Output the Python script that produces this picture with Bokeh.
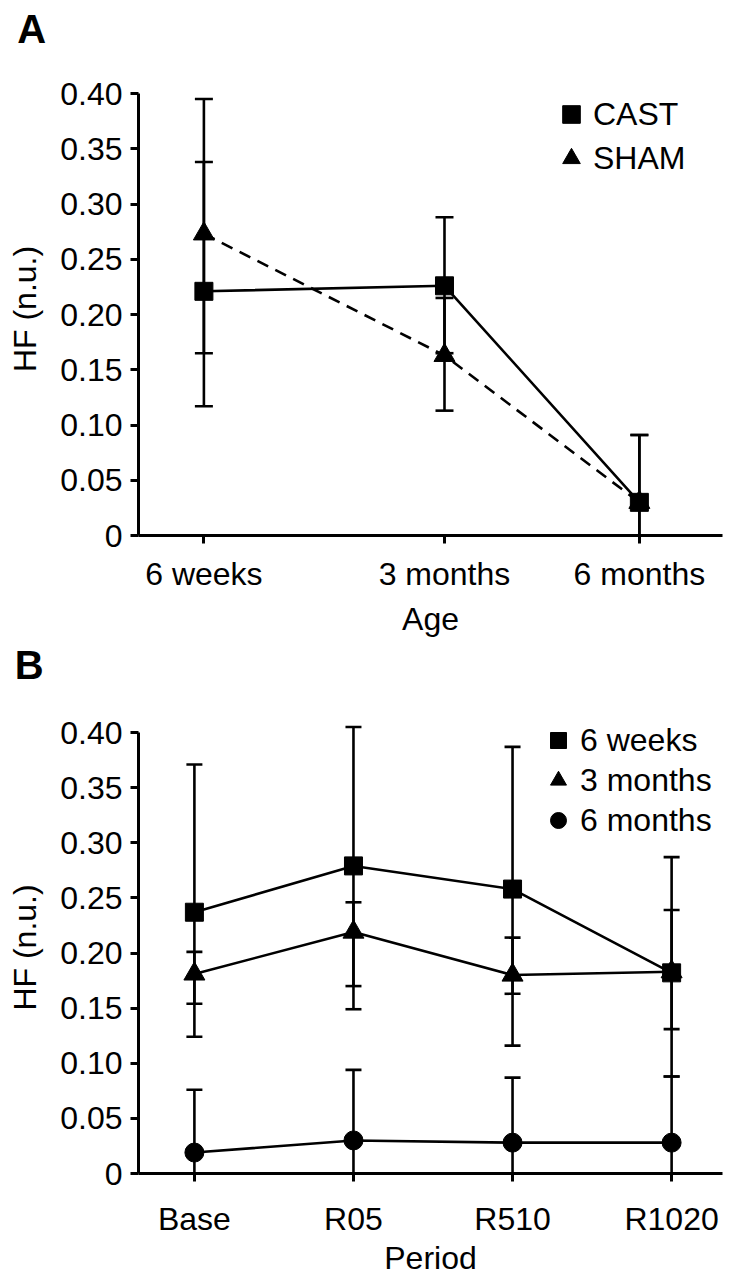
from bokeh.plotting import figure
from bokeh.models import Range1d, FixedTicker, Legend, LegendItem, Title
from bokeh.layouts import column
from bokeh.embed import file_html
from bokeh.resources import INLINE

FONT = "Liberation Sans"

# ---------------- data: panel A ----------------
age_labels = ["6 weeks", "3 months", "6 months"]
cast_mean = [0.221, 0.226, 0.030]
cast_upper = [0.338, 0.288, 0.091]
cast_lower = [0.117, 0.165, -0.031]
sham_mean = [0.273, 0.163, 0.030]
sham_upper = [0.395, 0.215, 0.091]
sham_lower = [0.165, 0.113, -0.031]

# ---------------- data: panel B ----------------
period_labels = ["Base", "R05", "R510", "R1020"]
w6_mean = [0.237, 0.279, 0.258, 0.182]
w6_upper = [0.371, 0.405, 0.387, 0.287]
w6_lower = [0.124, 0.149, 0.116, 0.088]
m3_mean = [0.181, 0.219, 0.180, 0.183]
m3_upper = [0.201, 0.246, 0.214, 0.239]
m3_lower = [0.154, 0.170, 0.163, 0.131]
m6_mean = [0.019, 0.030, 0.028, 0.028]
m6_upper = [0.076, 0.094, 0.087, 0.088]
m6_lower = [-0.038, -0.034, -0.031, -0.032]

y_ticks = [0, 0.05, 0.10, 0.15, 0.20, 0.25, 0.30, 0.35, 0.40]
y_tick_labels = ["0", "0.05", "0.10", "0.15", "0.20", "0.25", "0.30", "0.35", "0.40"]

# layout positions of categories along x
age_pos = [0.0, 1.0, 1.81]
period_pos = [0, 1, 2, 3]

W = 736
LEFT, RIGHT = 138, 14
Y_TOP = 0.41
LW = 2.6


def style(p, xpos, xlabels, xtitle, lab_standoff, title_standoff):
    p.grid.visible = False
    p.outline_line_color = None
    p.background_fill_color = "white"
    p.border_fill_color = "white"
    p.xaxis.ticker = FixedTicker(ticks=xpos)
    p.xaxis.major_label_overrides = {x: l for x, l in zip(xpos, xlabels)}
    p.yaxis.ticker = FixedTicker(ticks=y_ticks)
    p.yaxis.major_label_overrides = {t: l for t, l in zip(y_ticks, y_tick_labels)}
    p.yaxis.bounds = (0, 0.40)
    for ax in p.axis:
        ax.axis_line_width = 3
        ax.axis_line_color = "black"
        ax.major_tick_line_width = 3
        ax.major_tick_line_color = "black"
        ax.major_tick_out = 8
        ax.major_tick_in = 0
        ax.minor_tick_out = 0
        ax.minor_tick_in = 0
        ax.major_label_text_font = FONT
        ax.major_label_text_font_size = "32px"
        ax.major_label_text_color = "black"
        ax.axis_label_text_font = FONT
        ax.axis_label_text_font_size = "32px"
        ax.axis_label_text_font_style = "normal"
        ax.axis_label_text_color = "black"
    p.xaxis.axis_label = xtitle
    p.yaxis.axis_label = "HF (n.u.)"
    p.xaxis.major_label_standoff = lab_standoff
    p.xaxis.axis_label_standoff = title_standoff
    p.yaxis.major_label_standoff = 8
    p.yaxis.axis_label_standoff = 14


def errbars(p, xs, lo, hi, cap):
    p.segment(x0=xs, y0=lo, x1=xs, y1=hi, line_width=LW, line_color="black")
    p.scatter(x=xs, y=hi, marker="dash", size=cap, line_width=LW, line_color="black")
    p.scatter(x=xs, y=lo, marker="dash", size=cap, line_width=LW, line_color="black")


def panel_letter(p, text, offset, gap):
    # spacer panel next to the frame, then the bold panel letter above it
    p.add_layout(Title(text=" ", text_font_size="10px", standoff=gap,
                       text_color="white"), "above")
    p.add_layout(Title(text=text, text_font=FONT, text_font_size="40px",
                       text_font_style="bold", text_color="black", align="left",
                       vertical_align="top", offset=offset, standoff=0), "above")


# ---------------- panel A ----------------
HA, TOPA, FHA = 640, 82, 453
pa = figure(width=W, height=HA, title=None,
            x_range=Range1d(-0.2718, 2.1555), y_range=Range1d(0, Y_TOP),
            min_border_left=LEFT, min_border_right=RIGHT, min_border_top=TOPA,
            min_border_bottom=HA - TOPA - FHA,
            output_backend="svg", toolbar_location=None)
style(pa, age_pos, age_labels, "Age", 12, 6)

errbars(pa, age_pos, sham_lower, sham_upper, 18)
errbars(pa, age_pos, cast_lower, cast_upper, 18)
pa.line(age_pos, sham_mean, line_width=LW, line_color="black", line_dash="12 8")
pa.line(age_pos, cast_mean, line_width=LW, line_color="black")
r_sham = pa.scatter(age_pos, sham_mean, marker="triangle", size=21, color="black")
r_cast = pa.scatter(age_pos, cast_mean, marker="square", size=18, color="black")

leg_a = Legend(items=[LegendItem(label="CAST", renderers=[r_cast]),
                      LegendItem(label="SHAM", renderers=[r_sham])],
               location=(411, 355), glyph_width=44, glyph_height=44, spacing=0, padding=0,
               label_standoff=-10, label_text_font=FONT, label_text_font_size="32px",
               label_text_color="black", border_line_color=None, background_fill_alpha=0,
               margin=0)
pa.add_layout(leg_a)
panel_letter(pa, "A", -121.3, 17)

# ---------------- panel B ----------------
HB, TOPB, FHB = 638, 81, 454
pb = figure(width=W, height=HB, title=None,
            x_range=Range1d(-0.3514, 3.3199), y_range=Range1d(0, Y_TOP),
            min_border_left=LEFT, min_border_right=RIGHT, min_border_top=TOPB,
            min_border_bottom=HB - TOPB - FHB,
            output_backend="svg", toolbar_location=None)
style(pb, period_pos, period_labels, "Period", 19, 0)

errbars(pb, period_pos, m6_lower, m6_upper, 16)
errbars(pb, period_pos, m3_lower, m3_upper, 16)
errbars(pb, period_pos, w6_lower, w6_upper, 16)
pb.line(period_pos, m6_mean, line_width=LW, line_color="black")
pb.line(period_pos, m3_mean, line_width=LW, line_color="black")
pb.line(period_pos, w6_mean, line_width=LW, line_color="black")
r_m6 = pb.scatter(period_pos, m6_mean, marker="circle", size=19, color="black")
r_m3 = pb.scatter(period_pos, m3_mean, marker="triangle", size=21, color="black")
r_w6 = pb.scatter(period_pos, w6_mean, marker="square", size=18, color="black")

leg_b = Legend(items=[LegendItem(label="6 weeks", renderers=[r_w6]),
                      LegendItem(label="3 months", renderers=[r_m3]),
                      LegendItem(label="6 months", renderers=[r_m6])],
               location=(398, 333), glyph_width=44, glyph_height=40, spacing=0, padding=0,
               label_standoff=-13, label_text_font=FONT, label_text_font_size="32px",
               label_text_color="black", border_line_color=None, background_fill_alpha=0,
               margin=0)
pb.add_layout(leg_b)
panel_letter(pb, "B", -123.7, 20)

layout = column(pa, pb, spacing=0)
open("out.html", "w").write(file_html(layout, INLINE))
